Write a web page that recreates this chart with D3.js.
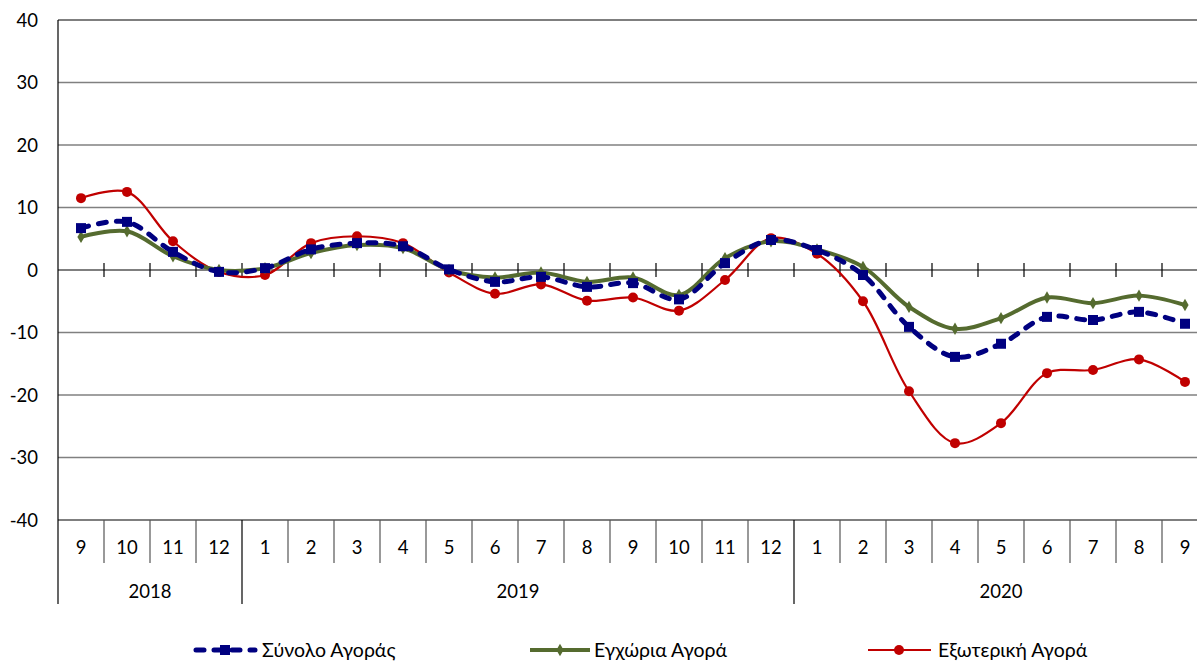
<!DOCTYPE html>
<html><head><meta charset="utf-8">
<script src="https://cdn.jsdelivr.net/npm/d3@7"></script>
<style>
html,body{margin:0;padding:0;background:#fff;overflow:hidden}
text{font-family:Lato,"Open Sans",sans-serif;fill:#000}
</style></head>
<body><svg id="c" width="1197" height="661"></svg>
<script>
const months = ["9","10","11","12","1","2","3","4","5","6","7","8","9","10","11","12","1","2","3","4","5","6","7","8","9"];
const years = ["2018","2018","2018","2018","2019","2019","2019","2019","2019","2019","2019","2019","2019","2019","2019","2019","2020","2020","2020","2020","2020","2020","2020","2020","2020"];
const yearLabels = ["2018","2019","2020"];
const yTicks = [-40,-30,-20,-10,0,10,20,30,40];
const totalMarket = [6.7,7.7,2.9,-0.3,0.3,3.3,4.3,3.8,0.1,-1.9,-1.1,-2.7,-2.1,-4.7,1.1,4.8,3.2,-0.8,-9.1,-13.9,-11.8,-7.5,-8.0,-6.7,-8.6];
const domesticMarket = [5.3,6.2,2.2,0.0,0.3,2.7,4.0,3.5,0.0,-1.2,-0.4,-1.9,-1.2,-4.0,1.9,4.6,3.3,0.5,-5.9,-9.4,-7.7,-4.4,-5.3,-4.1,-5.6];
const foreignMarket = [11.5,12.5,4.6,-0.3,-0.8,4.3,5.4,4.3,-0.4,-3.8,-2.3,-4.9,-4.4,-6.5,-1.6,5.1,2.6,-5.0,-19.4,-27.7,-24.5,-16.5,-16.0,-14.3,-17.9];
const seriesNames = ["Σύνολο Αγοράς","Εγχώρια Αγορά","Εξωτερική Αγορά"];

const svg = d3.select("#c");
const L = 58, T = 20, B = 520, bw = 46;
const keys = months.map((m,i)=>years[i]+"-"+m);
const x = d3.scaleBand().domain(keys).range([L, L + bw*keys.length]);
const y = d3.scaleLinear().domain([-40,40]).range([B,T]);

// grid
svg.append("g").selectAll("line").data(yTicks.filter(v=>v!==0 && v!==-40 && v!==40)).join("line")
  .attr("x1",L).attr("x2",1197).attr("y1",d=>y(d)).attr("y2",d=>y(d))
  .attr("stroke","#808080").attr("stroke-width",1.5);
svg.append("line").attr("x1",L).attr("x2",1197).attr("y1",y(40)).attr("y2",y(40)).attr("stroke","#000").attr("stroke-width",1.2);
svg.append("line").attr("x1",L).attr("x2",1197).attr("y1",y(0)).attr("y2",y(0)).attr("stroke","#000").attr("stroke-width",1.2);
svg.append("line").attr("x1",L).attr("x2",1197).attr("y1",y(-40)).attr("y2",y(-40)).attr("stroke","#000").attr("stroke-width",1.2);

// y axis
const ya = d3.axisLeft(y).tickValues(yTicks).tickSize(0).tickPadding(0).tickFormat(d=>String(d));
const yg = svg.append("g").attr("transform",`translate(${L},0)`).call(ya);
yg.select(".domain").remove();
yg.selectAll("text").attr("x",-20).attr("dy","0.35em").style("font-size","18.5px").style("font-family","Lato,'Open Sans',sans-serif").attr("fill","#000");
svg.append("line").attr("x1",L).attr("x2",L).attr("y1",T).attr("y2",604).attr("stroke","#000").attr("stroke-width",1.2);

// ticks at zero line
const bounds = keys.slice(1).map(k=>x(k));
svg.append("g").selectAll("line").data(bounds).join("line")
  .attr("x1",d=>d).attr("x2",d=>d).attr("y1",y(0)-7).attr("y2",y(0)+7)
  .attr("stroke","#000").attr("stroke-width",1.2);

// category dividers below axis
svg.append("g").selectAll("line").data(keys.slice(1)).join("line")
  .attr("x1",k=>x(k)).attr("x2",k=>x(k)).attr("y1",B)
  .attr("y2",(k,i)=> years[i+1]!==years[i] ? 604 : 563)
  .attr("stroke",(k,i)=> years[i+1]!==years[i] ? "#000":"#555").attr("stroke-width",1.2);

// month labels
const xa = d3.axisBottom(x).tickSize(0).tickPadding(0).tickFormat((k,i)=>months[i]);
const xg = svg.append("g").attr("transform",`translate(0,${B})`).call(xa);
xg.select(".domain").remove();
xg.selectAll("text").attr("y",28).attr("dy","0.35em").style("font-size","18.5px").style("font-family","Lato,'Open Sans',sans-serif").attr("fill","#000");

// year labels
yearLabels.forEach(yr=>{
  const ks = keys.filter((k,i)=>years[i]===yr);
  const cx = (x(ks[0]) + x(ks[ks.length-1]) + bw)/2;
  svg.append("text").attr("x",cx).attr("y",592).attr("dy","0.35em").attr("text-anchor","middle").style("font-size","18.5px").text(yr);
});

const line = d3.line().x((d,i)=>x(keys[i])+bw/2).y(d=>y(d)).curve(d3.curveCatmullRom.alpha(0.5));

svg.append("path").attr("d",line(foreignMarket)).attr("fill","none").attr("stroke","#C00000").attr("stroke-width",2.2);
svg.append("path").attr("d",line(domesticMarket)).attr("fill","none").attr("stroke","#556B2F").attr("stroke-width",4);
svg.append("path").attr("d",line(totalMarket)).attr("fill","none").attr("stroke","#000080").attr("stroke-width",5).attr("stroke-dasharray","8,10").attr("stroke-linecap","round");

svg.append("g").selectAll("circle").data(foreignMarket).join("circle")
  .attr("cx",(d,i)=>x(keys[i])+bw/2).attr("cy",d=>y(d)).attr("r",5).attr("fill","#C00000");
svg.append("g").selectAll("path").data(domesticMarket).join("path")
  .attr("d",d3.symbol(d3.symbolDiamond,45)).attr("transform",(d,i)=>`translate(${x(keys[i])+bw/2},${y(d)})`).attr("fill","#556B2F");
svg.append("g").selectAll("rect").data(totalMarket).join("rect")
  .attr("x",(d,i)=>x(keys[i])+bw/2-5).attr("y",d=>y(d)-5).attr("width",10).attr("height",10).attr("fill","#000080");

// legend
const ly = 650;
const lg = svg.append("g");
lg.append("line").attr("x1",196).attr("x2",255).attr("y1",ly).attr("y2",ly).attr("stroke","#000080").attr("stroke-width",5).attr("stroke-dasharray","8,10").attr("stroke-linecap","round");
lg.append("rect").attr("x",220).attr("y",ly-5).attr("width",10).attr("height",10).attr("fill","#000080");
lg.append("text").attr("x",262).attr("y",ly).attr("dy","0.35em").style("font-size","19.5px").text(seriesNames[0]);
lg.append("line").attr("x1",530).attr("x2",590).attr("y1",ly).attr("y2",ly).attr("stroke","#556B2F").attr("stroke-width",4);
lg.append("path").attr("d",d3.symbol(d3.symbolDiamond,45)).attr("transform",`translate(560,${ly})`).attr("fill","#556B2F");
lg.append("text").attr("x",594).attr("y",ly).attr("dy","0.35em").style("font-size","19.5px").text(seriesNames[1]);
lg.append("line").attr("x1",868).attr("x2",931).attr("y1",ly).attr("y2",ly).attr("stroke","#C00000").attr("stroke-width",2.2);
lg.append("circle").attr("cx",899).attr("cy",ly).attr("r",5).attr("fill","#C00000");
lg.append("text").attr("x",938).attr("y",ly).attr("dy","0.35em").style("font-size","19.5px").text(seriesNames[2]);
</script></body></html>
